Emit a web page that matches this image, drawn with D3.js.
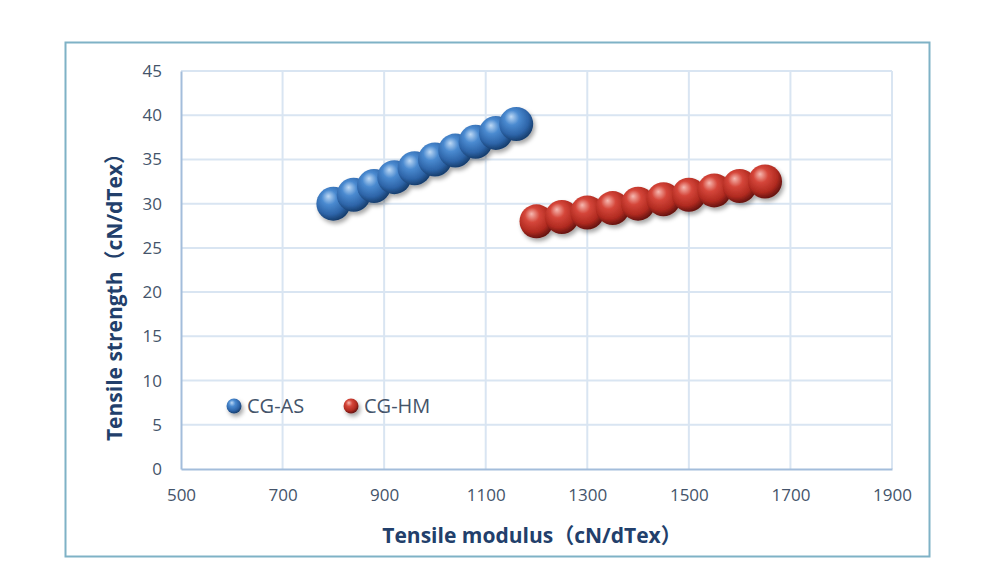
<!DOCTYPE html>
<html lang="en">
<head>
  <meta charset="UTF-8">
  <title>Tensile strength vs modulus</title>
  <script src="https://d3js.org/d3.v7.min.js"></script>
  <style>
    body {
      margin: 0;
      background: white;
      font-family: "Open Sans", "Noto Sans CJK SC", sans-serif;
    }
    .tick text {
      font-size: 17px;
      fill: #44546a;
    }
    .axis-title {
      font-size: 21px;
      font-weight: bold;
      fill: #223f6b;
    }
    .legend-text {
      font-size: 20px;
      fill: #44546a;
    }
  </style>
</head>
<body>
  <svg width="1000" height="588"></svg>
  <script>
    // values
    const asModulus = [800, 840, 880, 920, 960, 1000, 1040, 1080, 1120, 1160];
    const asStrength = [30, 31, 32, 33, 34, 35, 36, 37, 38, 39];
    const hmModulus = [1200, 1250, 1300, 1350, 1400, 1450, 1500, 1550, 1600, 1650];
    const hmStrength = [28, 28.5, 29, 29.5, 30, 30.5, 31, 31.5, 32, 32.5];
    const xTicks = [500, 700, 900, 1100, 1300, 1500, 1700, 1900];
    const yTicks = [0, 5, 10, 15, 20, 25, 30, 35, 40, 45];

    const series = [
      { name: "CG-AS", id: "blue", x: asModulus, y: asStrength },
      { name: "CG-HM", id: "red", x: hmModulus, y: hmStrength }
    ];

    const svg = d3.select("svg");
    const margin = { left: 181, right: 108, top: 71, bottom: 119 };
    const width = 1000 - margin.left - margin.right;
    const height = 588 - margin.top - margin.bottom;

    // outer frame
    svg.append("rect")
      .attr("x", 65.5).attr("y", 42.5)
      .attr("width", 864).attr("height", 514)
      .attr("fill", "white")
      .attr("stroke", "#7fb2c6")
      .attr("stroke-width", 2);

    const defs = svg.append("defs");
    const colours = {
      blue: ["#bcd8f5", "#4a8ad0", "#2d64a8", "#173e6e"],
      red: ["#f6b8b0", "#d5463a", "#b02a20", "#661410"]
    };
    Object.entries(colours).forEach(([id, c]) => {
      const gr = defs.append("radialGradient")
        .attr("id", "grad-" + id)
        .attr("cx", "42%").attr("cy", "38%").attr("r", "62%")
        .attr("fx", "35%").attr("fy", "28%");
      gr.append("stop").attr("offset", "0%").attr("stop-color", c[0]);
      gr.append("stop").attr("offset", "35%").attr("stop-color", c[1]);
      gr.append("stop").attr("offset", "75%").attr("stop-color", c[2]);
      gr.append("stop").attr("offset", "100%").attr("stop-color", c[3]);
    });
    const shadow = defs.append("filter").attr("id", "shadow")
      .attr("x", "-50%").attr("y", "-50%").attr("width", "200%").attr("height", "200%");
    shadow.append("feDropShadow")
      .attr("dx", 2).attr("dy", 3).attr("stdDeviation", 2)
      .attr("flood-color", "#000").attr("flood-opacity", 0.35);

    const g = svg.append("g").attr("transform", `translate(${margin.left},${margin.top})`);

    const x = d3.scaleLinear().domain([500, 1900]).range([0, width]);
    const y = d3.scaleLinear().domain([0, 45]).range([height, 0]);

    // grid
    g.append("g").selectAll("line").data(xTicks.slice(1)).join("line")
      .attr("x1", d => x(d)).attr("x2", d => x(d))
      .attr("y1", 0).attr("y2", height)
      .attr("stroke", "#d9e5f2").attr("stroke-width", 2);
    g.append("g").selectAll("line").data(yTicks.slice(1)).join("line")
      .attr("x1", 0).attr("x2", width)
      .attr("y1", d => y(d)).attr("y2", d => y(d))
      .attr("stroke", "#d9e5f2").attr("stroke-width", 2);

    // axes
    const xAxis = g.append("g").attr("transform", `translate(0,${height})`)
      .call(d3.axisBottom(x).tickValues(xTicks).tickFormat(d3.format("d")).tickSize(0).tickPadding(20));
    xAxis.select(".domain").attr("stroke", "#a3bddb").attr("stroke-width", 2);

    const yAxis = g.append("g")
      .call(d3.axisLeft(y).tickValues(yTicks).tickFormat(d3.format("d")).tickSize(0).tickPadding(19));
    yAxis.select(".domain").attr("stroke", "#a3bddb").attr("stroke-width", 2);
    g.selectAll(".tick text").attr("font-family", "\"Open Sans\", sans-serif");

    // spheres
    series.forEach(s => {
      g.append("g").attr("filter", "url(#shadow)")
        .selectAll("circle")
        .data(s.x.map((v, i) => ({ x: v, y: s.y[i] })))
        .join("circle")
        .attr("cx", d => x(d.x))
        .attr("cy", d => y(d.y))
        .attr("r", 17)
        .attr("fill", `url(#grad-${s.id})`);
    });

    // axis titles
    svg.append("text").attr("class", "axis-title")
      .attr("x", 532).attr("y", 543)
      .attr("text-anchor", "middle")
      .text("Tensile modulus（cN/dTex）");
    svg.append("text").attr("class", "axis-title")
      .attr("transform", "translate(122,292) rotate(-90)")
      .attr("text-anchor", "middle")
      .text("Tensile strength（cN/dTex）");

    // legend
    const legend = svg.append("g").attr("transform", "translate(234,406)");
    series.forEach((s, i) => {
      const item = legend.append("g").attr("transform", `translate(${i * 117},0)`);
      item.append("circle").attr("r", 7.5)
        .attr("fill", `url(#grad-${s.id})`)
        .attr("filter", "url(#shadow)");
      item.append("text").attr("class", "legend-text")
        .attr("x", 13).attr("y", 7).text(s.name);
    });
  </script>
</body>
</html>
